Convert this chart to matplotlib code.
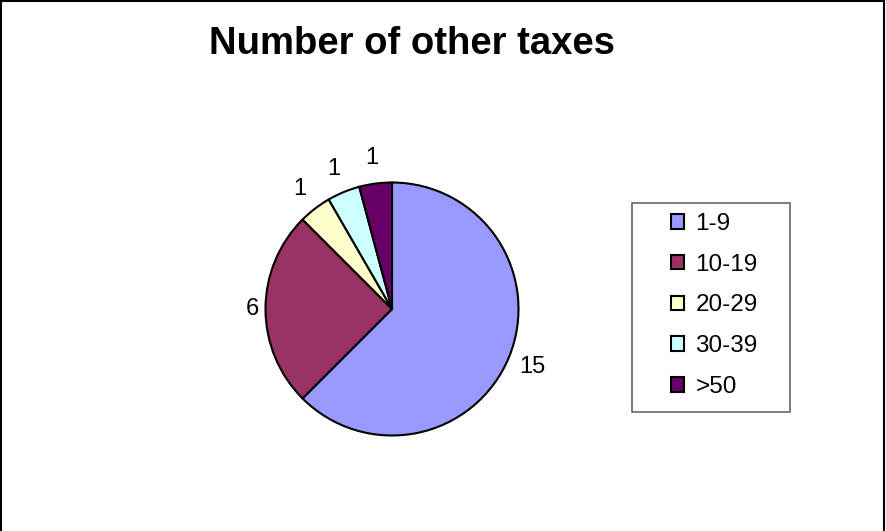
import numpy as np
import matplotlib
matplotlib.use("Agg")
import matplotlib.pyplot as plt
from matplotlib.patches import Rectangle

plt.rcParams['font.family'] = ['Liberation Sans', 'DejaVu Sans']

# data
categories = ['1-9', '10-19', '20-29', '30-39', '>50']
counts = [15, 6, 1, 1, 1]
colors = ['#9999FF', '#993366', '#FFFFCC', '#CCFFFF', '#660066']

W, H = 887, 531
fig = plt.figure(figsize=(W / 100, H / 100), dpi=100)

def px_box(x0, y0, w, h):
    # pixel box (top-left origin) -> figure fraction
    return [x0 / W, 1 - (y0 + h) / H, w / W, h / H]

# pie: centre ~ (392, 309) px, radius ~126 px
r_px = 126.5
cx, cy = 392, 309
half = 165
ax = fig.add_axes(px_box(cx - half, cy - half, 2 * half, 2 * half))
wedges, texts = ax.pie(counts, labels=[str(c) for c in counts], colors=colors,
                       startangle=90, counterclock=False, radius=1.0,
                       labeldistance=1.2,
                       wedgeprops=dict(edgecolor='black', linewidth=1.5),
                       textprops=dict(fontsize=17, color='black'))
for t in texts:
    t.set_ha('center'); t.set_va('center')
    x, y = t.get_position()
    ang = np.arctan2(y, x)
    if abs(np.cos(ang)) > 0.95:  # side labels sit closer in
        t.set_position((x * 1.1 / 1.2, y * 1.1 / 1.2))
lim = half / r_px
ax.set_xlim(-lim, lim); ax.set_ylim(-lim, lim)
ax.set_aspect('equal')
ax.axis('off')

fig.text(412 / W, 1 - 44 / H, 'Number of other taxes', ha='center', va='center',
         fontsize=27.5, fontweight='bold')

# legend frame drawn separately so the inner padding can be uneven
fig.patches.append(Rectangle(px_box(632, 203, 158, 209)[:2], 158 / W, 209 / H,
                             transform=fig.transFigure, fill=False,
                             edgecolor='#666666', linewidth=1.2))
leg = fig.legend(wedges, categories, loc='upper left',
                 bbox_to_anchor=(671 / W, 1 - 213 / H),
                 fontsize=17.5, frameon=False, labelspacing=0.77,
                 handlelength=0.55, handleheight=0.55, handletextpad=0.45,
                 borderpad=0, borderaxespad=0)
for h in leg.legend_handles:
    h.set_linewidth(1.5)

# outer chart border (bottom edge runs off the picture)
fig.patches.append(Rectangle((1.5 / W, -0.05), 1 - 4 / W, 1.05 - 1 / H,
                             transform=fig.transFigure, fill=False,
                             edgecolor='black', linewidth=1.5))

fig.savefig('out.png', dpi=100)
